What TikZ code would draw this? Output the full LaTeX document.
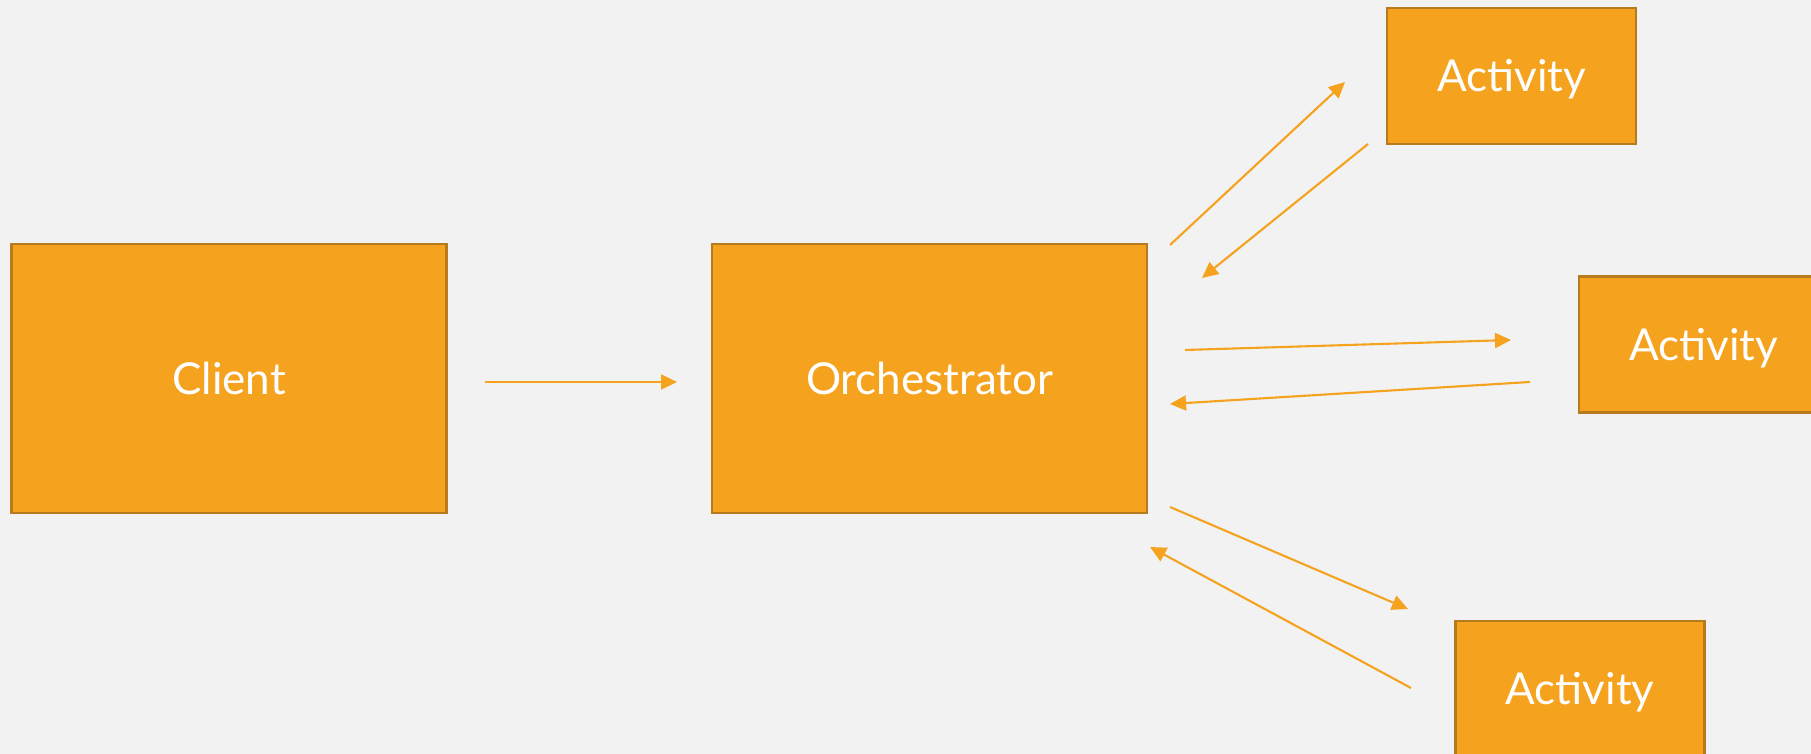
\documentclass[tikz,border=0pt]{standalone}
\usepackage{fontspec}
\setmainfont{Lato}
\usepackage{tikz}
\usetikzlibrary{arrows.meta}

\definecolor{bg}{HTML}{F2F2F2}
\definecolor{boxfill}{HTML}{F5A31F}
\definecolor{boxline}{HTML}{B87A1E}

\begin{document}
\begin{tikzpicture}[
  box/.style={draw=boxline, line width=0.6pt, fill=boxfill, inner sep=0pt,
              text=white, font=\fontsize{12.5pt}{15pt}\selectfont,
              text height=9pt, text depth=0pt},
  bigbox/.style={box, minimum width=4.35cm, minimum height=2.69cm},
  smallbox/.style={box, minimum width=2.49cm, minimum height=1.36cm},
  flow/.style={draw=boxfill, line width=0.6pt,
               -{Triangle[length=0.16cm, width=0.15cm]}}]

\useasboundingbox (0,0) rectangle (18.11,7.54);
\clip (0,0) rectangle (18.11,7.54);
\fill[bg] (0,0) rectangle (18.11,7.54);

\node[bigbox] (client) at (2.29,3.755) {Client};
\node[bigbox] (orch) at (9.295,3.755) {Orchestrator};

\node[smallbox] (act1) at (15.115,6.78) {Activity};
\node[smallbox] (act2) at (17.035,4.095) {Activity};
\node[smallbox] (act3) at (15.80,0.65) {Activity};

\coordinate (clientout) at (4.85,3.72);
\coordinate (orchin) at (6.77,3.72);
\draw[flow] (clientout) -- (orchin);

\coordinate (orchact1) at (11.70,5.09);
\coordinate (act1in) at (13.45,6.72);
\coordinate (act1orch) at (13.68,6.10);
\coordinate (orchin1) at (12.02,4.76);
\draw[flow] (orchact1) -- (act1in);
\draw[flow] (act1orch) -- (orchin1);

\coordinate (orchact2) at (11.85,4.04);
\coordinate (act2in) at (15.11,4.14);
\coordinate (act2orch) at (15.30,3.72);
\coordinate (orchin2) at (11.70,3.50);
\draw[flow] (orchact2) -- (act2in);
\draw[flow] (act2orch) -- (orchin2);

\coordinate (orchact3) at (11.70,2.47);
\coordinate (act3in) at (14.08,1.45);
\coordinate (act3orch) at (14.11,0.66);
\coordinate (orchin3) at (11.50,2.07);
\draw[flow] (orchact3) -- (act3in);
\draw[flow] (act3orch) -- (orchin3);

\end{tikzpicture}
\end{document}
